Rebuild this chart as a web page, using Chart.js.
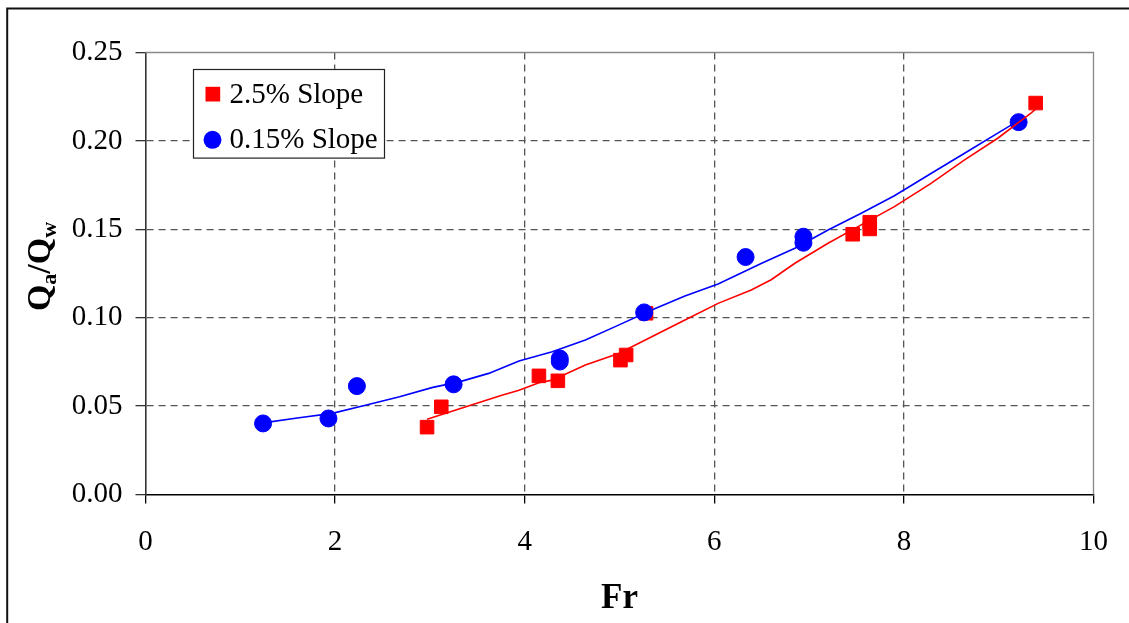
<!DOCTYPE html>
<html lang="en">
<head>
  <meta charset="UTF-8" />
  <title>Qa/Qw vs Fr</title>
  <style>
    body { margin: 0; background: #fff; }
    #wrap { width: 1129px; height: 623px; position: relative; }
  </style>
  <script src="https://cdn.jsdelivr.net/npm/chart.js"></script>
</head>
<body>
<div id="wrap"><canvas id="chart" width="1129" height="623"></canvas></div>
<script>
  // measured points, 2.5% slope (red squares)
  const steepFr = [2.97, 3.12, 4.15, 4.35, 5.01, 5.07, 5.28, 7.46, 7.64, 7.64, 9.39];
  const steepQ  = [0.0381, 0.0496, 0.0671, 0.0643, 0.0760, 0.0789, 0.1025, 0.1472, 0.1502, 0.1540, 0.2214];

  // measured points, 0.15% slope (blue circles)
  const mildFr = [1.24, 1.93, 2.23, 3.25, 4.37, 4.37, 5.26, 6.33, 6.94, 6.94, 9.21];
  const mildQ  = [0.0402, 0.0430, 0.0613, 0.0623, 0.0769, 0.0752, 0.1030, 0.1343, 0.1458, 0.1424, 0.2106];

  // trend lines
  const steepFitFr = [2.97, 3.38, 3.75, 3.94, 4.15, 4.29, 4.64, 4.99, 5.34, 5.69, 6.04, 6.39, 6.60, 6.85, 7.20, 7.55, 7.90, 8.29, 8.64, 8.99, 9.34, 9.39];
  const steepFitQ  = [0.0425, 0.0496, 0.0560, 0.0590, 0.0632, 0.0647, 0.0732, 0.0798, 0.0892, 0.0987, 0.1081, 0.1157, 0.1215, 0.1308, 0.1421, 0.1525, 0.1628, 0.1761, 0.1893, 0.2015, 0.2157, 0.2180];

  const mildFitFr = [1.24, 1.62, 1.97, 2.33, 2.68, 3.03, 3.31, 3.62, 3.94, 4.29, 4.64, 4.99, 5.34, 5.69, 6.04, 6.50, 6.85, 7.20, 7.55, 7.90, 8.29, 8.64, 8.99, 9.21];
  const mildFitQ  = [0.0405, 0.0434, 0.0459, 0.0506, 0.0553, 0.0606, 0.0637, 0.0685, 0.0755, 0.0807, 0.0874, 0.0958, 0.1043, 0.1123, 0.1191, 0.1308, 0.1393, 0.1496, 0.1591, 0.1690, 0.1817, 0.1930, 0.2044, 0.2115];

  const legendLabels = ['2.5% Slope', '0.15% Slope'];
  const xTitle = 'Fr';

  const RED = '#ff0000', BLUE = '#0000ff';
  const SERIF = '"Liberation Serif", "Times New Roman", serif';

  const pts = (xs, ys) => xs.map((x, i) => ({ x: x, y: ys[i] }));

  const decor = {
    id: 'decor',
    beforeDraw(chart) {
      const ctx = chart.ctx;
      ctx.save();
      ctx.strokeStyle = '#111';
      ctx.lineWidth = 2;
      ctx.beginPath();
      ctx.moveTo(7.2, chart.height);
      ctx.lineTo(7.2, 8.5);
      ctx.lineTo(chart.width, 8.5);
      ctx.stroke();
      ctx.restore();
    },
    afterDraw(chart) {
      const ctx = chart.ctx, ca = chart.chartArea;
      ctx.save();

      // grey plot-area border top + right
      ctx.strokeStyle = '#888';
      ctx.lineWidth = 1.3;
      ctx.beginPath();
      ctx.moveTo(ca.left, ca.top);
      ctx.lineTo(ca.right, ca.top);
      ctx.lineTo(ca.right, ca.bottom);
      ctx.stroke();

      // legend
      const lx = ca.left + 48, ly = ca.top + 17;
      ctx.fillStyle = '#fff';
      ctx.fillRect(lx, ly, 191, 88.6);
      ctx.strokeStyle = '#222';
      ctx.lineWidth = 1.2;
      ctx.strokeRect(lx, ly, 191, 88.6);
      ctx.fillStyle = RED;
      ctx.fillRect(lx + 12, ly + 17.3, 14.7, 14.7);
      ctx.fillStyle = BLUE;
      ctx.beginPath();
      ctx.arc(lx + 19, ly + 70.3, 9, 0, Math.PI * 2);
      ctx.fill();
      ctx.fillStyle = '#000';
      ctx.font = '29px ' + SERIF;
      ctx.textBaseline = 'alphabetic';
      ctx.textAlign = 'left';
      ctx.fillText(legendLabels[0], lx + 36, ly + 33);
      ctx.fillText(legendLabels[1], lx + 36, ly + 78.6);

      // x title
      ctx.font = 'bold 35px ' + SERIF;
      ctx.textAlign = 'center';
      ctx.fillText(xTitle, (ca.left + ca.right) / 2, 608.3);

      // y title Qa/Qw with subscripts
      const parts = [['Q', 34, 0], ['a', 22, 6], ['/', 34, 0], ['Q', 34, 0], ['w', 22, 6]];
      let total = 0;
      parts.forEach(p => { ctx.font = 'bold ' + p[1] + 'px ' + SERIF; p.push(ctx.measureText(p[0]).width); total += p[3]; });
      ctx.translate(50, (ca.top + ca.bottom) / 2 - 7);
      ctx.rotate(-Math.PI / 2);
      ctx.textAlign = 'left';
      let cx = -total / 2;
      parts.forEach(p => {
        ctx.font = 'bold ' + p[1] + 'px ' + SERIF;
        ctx.fillText(p[0], cx, p[2]);
        cx += p[3];
      });
      ctx.restore();
    }
  };

  const isEdge = (v, a, b) => Math.abs(v - a) < 1e-9 || Math.abs(v - b) < 1e-9;

  new Chart(document.getElementById('chart'), {
    type: 'scatter',
    data: {
      datasets: [
        { data: pts(steepFitFr, steepFitQ), showLine: true, borderColor: RED, borderWidth: 1.6, pointRadius: 0, tension: 0, fill: false },
        { data: pts(mildFitFr, mildFitQ), showLine: true, borderColor: BLUE, borderWidth: 1.6, pointRadius: 0, tension: 0, fill: false },
        { label: legendLabels[1], data: pts(mildFr, mildQ), pointStyle: 'circle', pointRadius: 8.5, backgroundColor: BLUE, borderColor: BLUE, borderWidth: 1 },
        { label: legendLabels[0], data: pts(steepFr, steepQ), pointStyle: 'rect', pointRadius: 9.6, backgroundColor: RED, borderColor: RED, borderWidth: 1 }
      ]
    },
    options: {
      responsive: false,
      devicePixelRatio: 1,
      animation: false,
      events: [],
      layout: { padding: { top: 52.5, right: 32.5, bottom: 0, left: 0 } },
      plugins: { legend: { display: false }, tooltip: { enabled: false } },
      scales: {
        x: {
          type: 'linear', min: 0, max: 10,
          afterFit: s => { s.height = 128.5; },
          ticks: { stepSize: 2, color: '#000', padding: 21, font: { family: SERIF, size: 29 } },
          grid: {
            color: c => (c.tick && isEdge(c.tick.value, 0, 10)) ? 'rgba(0,0,0,0)' : '#555',
            lineWidth: 1.3, tickLength: 9, tickColor: '#000', tickWidth: 1.3
          },
          border: { color: '#000', width: 1.6, dash: [7, 5] }
        },
        y: {
          type: 'linear', min: 0, max: 0.25,
          afterFit: s => { s.width = 145.5; },
          ticks: { stepSize: 0.05, color: '#000', padding: 13, font: { family: SERIF, size: 29 }, callback: v => v.toFixed(2) },
          grid: {
            color: c => (c.tick && isEdge(c.tick.value, 0, 0.25)) ? 'rgba(0,0,0,0)' : '#555',
            lineWidth: 1.3, tickLength: 10, tickColor: '#333', tickWidth: 1.3
          },
          border: { color: '#333', width: 1.6, dash: [7, 5] }
        }
      }
    },
    plugins: [decor]
  });
</script>
</body>
</html>
